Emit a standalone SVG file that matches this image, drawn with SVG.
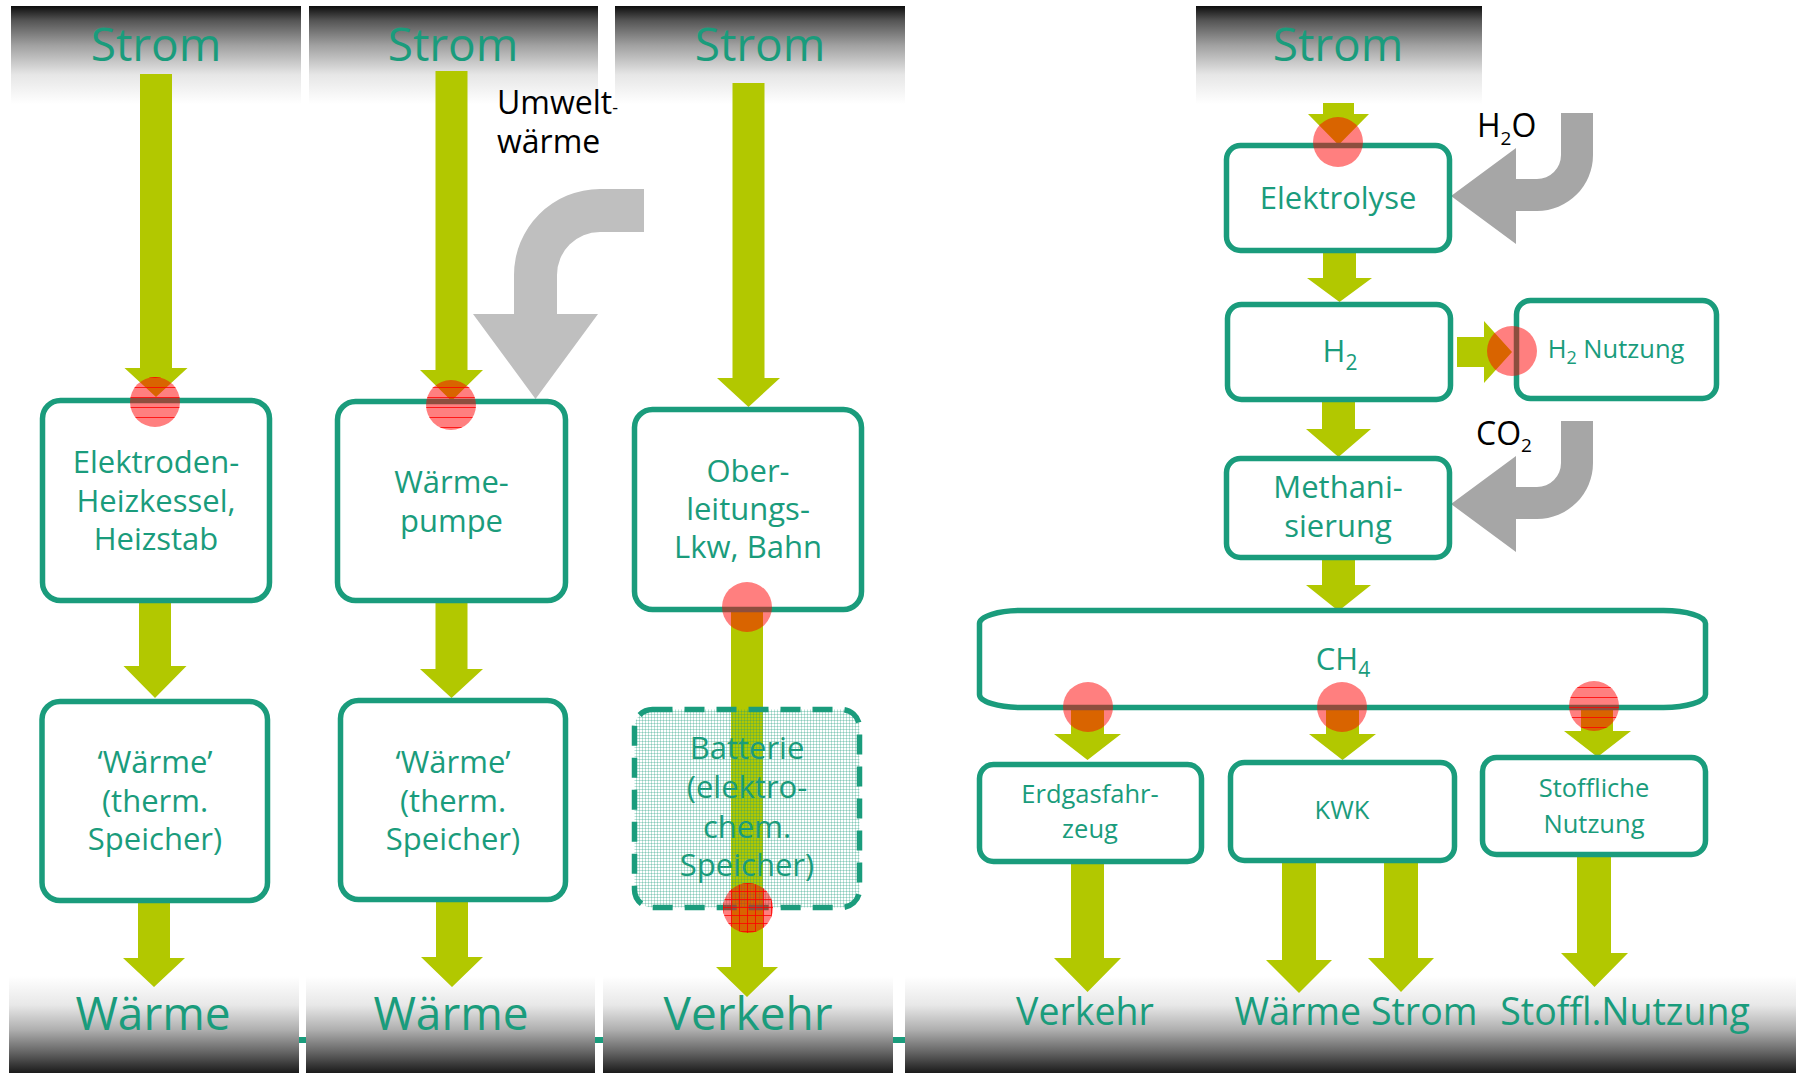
<svg xmlns="http://www.w3.org/2000/svg" width="1796" height="1073" viewBox="0 0 1796 1073">
<defs>
<linearGradient id="hdr" x1="0" y1="0" x2="0" y2="1">
<stop offset="0" stop-color="#0d0d0d"/>
<stop offset="0.15" stop-color="#555"/>
<stop offset="0.4" stop-color="#a0a0a0"/>
<stop offset="0.7" stop-color="#e6e6e6"/>
<stop offset="1" stop-color="#fff"/>
</linearGradient>
<linearGradient id="ftr" x1="0" y1="0" x2="0" y2="1">
<stop offset="0" stop-color="#fff"/>
<stop offset="0.3" stop-color="#e8e8e8"/>
<stop offset="0.55" stop-color="#b0b0b0"/>
<stop offset="0.8" stop-color="#606060"/>
<stop offset="1" stop-color="#1a1a1a"/>
</linearGradient>
<pattern id="hatch" patternUnits="userSpaceOnUse" width="3" height="3">
<rect x="0" y="0" width="1" height="3" fill="#1a9c7c" fill-opacity="0.3"/>
<rect x="0" y="0" width="3" height="1" fill="#1a9c7c" fill-opacity="0.3"/>
</pattern>
<pattern id="rlines" patternUnits="userSpaceOnUse" width="10" height="10">
<rect x="0" y="7" width="10" height="1" fill="#ff0000" fill-opacity="0.8"/>
</pattern>
<pattern id="rgrid" patternUnits="userSpaceOnUse" width="8" height="8">
<rect x="0" y="3" width="8" height="1" fill="#ff0000" fill-opacity="0.8"/>
<rect x="3" y="0" width="1" height="8" fill="#ff0000" fill-opacity="0.8"/>
</pattern>
</defs>
<style>
.hdr{fill:url(#hdr)}
.ftr{fill:url(#ftr)}
.big{font-family:"Open Sans","Noto Sans",sans-serif;font-weight:500;font-size:46px;fill:#1a9c7c;text-anchor:middle}
.ft4{font-family:"Open Sans","Noto Sans",sans-serif;font-weight:500;font-size:37.5px;fill:#1a9c7c;text-anchor:middle}
.box{fill:#fff;stroke:#1a9c7c;stroke-width:5.5}
.dash{fill:url(#hatch);stroke:#1a9c7c;stroke-width:5.5;stroke-dasharray:20 12}
.t{font-family:"Open Sans","Noto Sans",sans-serif;font-weight:500;font-size:31px;fill:#1a9c7c;text-anchor:middle}
.ts{font-family:"Open Sans","Noto Sans",sans-serif;font-weight:500;font-size:25.5px;fill:#1a9c7c;text-anchor:middle}
.lbl{font-family:"Open Sans","Noto Sans",sans-serif;font-weight:500;font-size:32px;fill:#000}
.g{fill:#b2c800}
.gr1{fill:#bfbfbf}
.gr2{fill:#a6a6a6}
.dot{fill:#ff0000;fill-opacity:0.5}
</style>

<g id="background">
<rect x="9" y="1037" width="1787" height="6" fill="#1a9c7c"/>
<rect class="hdr" x="11" y="6" width="290" height="98"/>
<rect class="hdr" x="309" y="6" width="289" height="98"/>
<rect class="hdr" x="615" y="6" width="290" height="98"/>
<rect class="hdr" x="1196" y="6" width="286" height="98"/>
<rect class="ftr" x="9" y="976" width="290" height="97"/>
<rect class="ftr" x="306" y="976" width="289" height="97"/>
<rect class="ftr" x="603" y="976" width="290" height="97"/>
<rect class="ftr" x="905" y="976" width="891" height="97"/>
<text class="big" x="156" y="61">Strom</text>
<text class="big" x="453" y="61">Strom</text>
<text class="big" x="760" y="61">Strom</text>
<text class="big" x="1338" y="61">Strom</text>
<text class="big" x="153" y="1030">Wärme</text>
<text class="big" x="451" y="1030">Wärme</text>
<text class="big" x="748" y="1030">Verkehr</text>
<text class="ft4" x="1085" y="1025">Verkehr</text>
<text class="ft4" x="1356" y="1025">Wärme Strom</text>
<text class="ft4" x="1625" y="1025">Stoffl.Nutzung</text>
</g>

<g id="connectors">
<polygon class="g" points="140,74 172,74 172,368 187.5,368 156,397 124.5,368 140,368"/>
<polygon class="g" points="139,600 171,600 171,666 186.5,666 155,698 123.5,666 139,666"/>
<polygon class="g" points="138,901 170,901 170,958 185,958 154,987 123,958 138,958"/>
<polygon class="g" points="435.5,71 467.5,71 467.5,370 483,370 451.5,401 420,370 435.5,370"/>
<polygon class="g" points="435.5,603 467.5,603 467.5,669 483,669 451.5,698 420,669 435.5,669"/>
<polygon class="g" points="436,902 468,902 468,957 483,957 452,987 421,957 436,957"/>
<polygon class="g" points="732.5,83 764.5,83 764.5,378 780,378 748.5,407 717,378 732.5,378"/>
<polygon class="g" points="731,612 763,612 763,967 778,967 747,997 716,967 731,967"/>
<path class="gr1" d="M644 189 L600 189 A86 86 0 0 0 514 275 L514 314 L473 314 L535.5 399 L598 314 L557 314 L557 275 A43 43 0 0 1 600 232 L644 232 Z"/>
<polygon class="g" points="1323,103 1354,103 1354,114 1369,114 1338.5,145 1308,114 1323,114"/>
<polygon class="g" points="1323,253 1356,253 1356,278 1372,278 1339.5,302 1307,278 1323,278"/>
<polygon class="g" points="1457,337 1484,337 1484,321 1512,352 1484,383 1484,367 1457,367"/>
<polygon class="g" points="1322,402 1355,402 1355,429 1371,429 1338.5,457 1306,429 1322,429"/>
<polygon class="g" points="1322,560 1355,560 1355,585 1371,585 1338.5,611 1306,585 1322,585"/>
<polygon class="g" points="1071,708 1104,708 1104,734 1121,734 1087.5,760 1054,734 1071,734"/>
<polygon class="g" points="1326,708 1359,708 1359,734 1376,734 1342.5,760 1309,734 1326,734"/>
<polygon class="g" points="1581,707 1613,707 1613,731 1631,731 1597.5,757 1564,731 1581,731"/>
<polygon class="g" points="1071,864 1104,864 1104,958 1121,958 1087.5,992 1054,958 1071,958"/>
<polygon class="g" points="1282,863 1316,863 1316,960 1332,960 1299,993 1266,960 1282,960"/>
<polygon class="g" points="1384,863 1418,863 1418,958 1434,958 1401,992 1368,958 1384,958"/>
<polygon class="g" points="1577,857 1611,857 1611,953 1628,953 1594.5,987 1561,953 1577,953"/>
<path class="gr2" d="M1561 113 L1593 113 L1593 155 A56 56 0 0 1 1537 211 L1516 211 L1516 244 L1451 196 L1516 148 L1516 179 L1537 179 A24 24 0 0 0 1561 155 Z"/>
<path class="gr2" transform="translate(0,308)" d="M1561 113 L1593 113 L1593 155 A56 56 0 0 1 1537 211 L1516 211 L1516 244 L1451 196 L1516 148 L1516 179 L1537 179 A24 24 0 0 0 1561 155 Z"/>
</g>

<g id="labels">
<text class="lbl" x="497" y="114">Umwelt<tspan font-size="18">-</tspan></text>
<text class="lbl" x="497" y="153">wärme</text>
<text class="lbl" x="1477" y="137" font-size="28.5">H<tspan font-size="19" dy="8">2</tspan><tspan dy="-8">O</tspan></text>
<text class="lbl" x="1476" y="445" font-size="28.5">CO<tspan font-size="19" dy="7">2</tspan></text>
</g>

<g id="n-elektroden">
<rect class="box" x="42.5" y="400.5" width="227" height="200" rx="18"/>
<text class="t" x="156" y="473">Elektroden-</text>
<text class="t" x="156" y="512">Heizkessel,</text>
<text class="t" x="156" y="550">Heizstab</text>
</g>
<g id="n-waerme1">
<rect class="box" x="42" y="701.5" width="225.5" height="199" rx="18"/>
<text class="t" x="155" y="773">‘Wärme’</text>
<text class="t" x="155" y="812">(therm.</text>
<text class="t" x="155" y="850">Speicher)</text>
</g>
<g id="n-waermepumpe">
<rect class="box" x="337.5" y="401.5" width="228" height="199" rx="18"/>
<text class="t" x="451.5" y="493">Wärme-</text>
<text class="t" x="451.5" y="532">pumpe</text>
</g>
<g id="n-waerme2">
<rect class="box" x="340.5" y="700.5" width="225" height="199" rx="18"/>
<text class="t" x="453" y="773">‘Wärme’</text>
<text class="t" x="453" y="812">(therm.</text>
<text class="t" x="453" y="850">Speicher)</text>
</g>
<g id="n-oberleitung">
<rect class="box" x="634.5" y="409.5" width="227" height="200" rx="18"/>
<text class="t" x="748" y="482">Ober-</text>
<text class="t" x="748" y="520">leitungs-</text>
<text class="t" x="748" y="558">Lkw, Bahn</text>
</g>
<g id="n-batterie">
<rect class="dash" x="634.5" y="709.5" width="225" height="198" rx="18"/>
<text class="t" x="747" y="759">Batterie</text>
<text class="t" x="747" y="798">(elektro-</text>
<text class="t" x="747" y="838">chem.</text>
<text class="t" x="747" y="876">Speicher)</text>
</g>
<g id="n-elektrolyse">
<rect class="box" x="1226.5" y="145.5" width="223" height="105" rx="14"/>
<text class="t" x="1338" y="209">Elektrolyse</text>
</g>
<g id="n-h2">
<rect class="box" x="1227.5" y="304.5" width="223" height="95" rx="14"/>
<text class="t" x="1340" y="362">H<tspan font-size="21" dy="8">2</tspan></text>
</g>
<g id="n-h2nutzung">
<rect class="box" x="1516.5" y="300.5" width="200" height="98" rx="14"/>
<text class="ts" x="1616" y="358" font-size="26">H<tspan font-size="18" dy="6">2</tspan><tspan dy="-6"> Nutzung</tspan></text>
</g>
<g id="n-methanisierung">
<rect class="box" x="1226.5" y="458.5" width="223" height="99" rx="14"/>
<text class="t" x="1338" y="498">Methani-</text>
<text class="t" x="1338" y="537">sierung</text>
</g>
<g id="n-ch4">
<rect class="box" x="979.5" y="610.5" width="726" height="97" rx="42" ry="13"/>
<text class="t" x="1343" y="670">CH<tspan font-size="21" dy="7">4</tspan></text>
</g>
<g id="n-erdgas">
<rect class="box" x="979.5" y="764.5" width="222" height="97" rx="14"/>
<text class="ts" x="1090" y="803">Erdgasfahr-</text>
<text class="ts" x="1090" y="838">zeug</text>
</g>
<g id="n-kwk">
<rect class="box" x="1230.5" y="762.5" width="224" height="98" rx="14"/>
<text class="ts" x="1342" y="819">KWK</text>
</g>
<g id="n-stoffliche">
<rect class="box" x="1482.5" y="757.5" width="223" height="97" rx="14"/>
<text class="ts" x="1594" y="797">Stoffliche</text>
<text class="ts" x="1594" y="833">Nutzung</text>
</g>

<g id="highlights">
<circle class="dot" cx="155" cy="402" r="25"/>
<circle cx="155" cy="402" r="25" fill="url(#rlines)"/>
<circle class="dot" cx="451" cy="405" r="25"/>
<circle cx="451" cy="405" r="25" fill="url(#rlines)"/>
<circle class="dot" cx="747" cy="607" r="25"/>
<circle class="dot" cx="748" cy="908" r="25"/>
<circle cx="748" cy="908" r="25" fill="url(#rgrid)"/>
<circle class="dot" cx="1338" cy="142" r="25"/>
<circle class="dot" cx="1512" cy="351" r="25"/>
<circle class="dot" cx="1088" cy="707" r="25"/>
<circle class="dot" cx="1342" cy="707" r="25"/>
<circle class="dot" cx="1594" cy="706" r="25"/>
<circle cx="1594" cy="706" r="25" fill="url(#rlines)"/>
</g>
</svg>
